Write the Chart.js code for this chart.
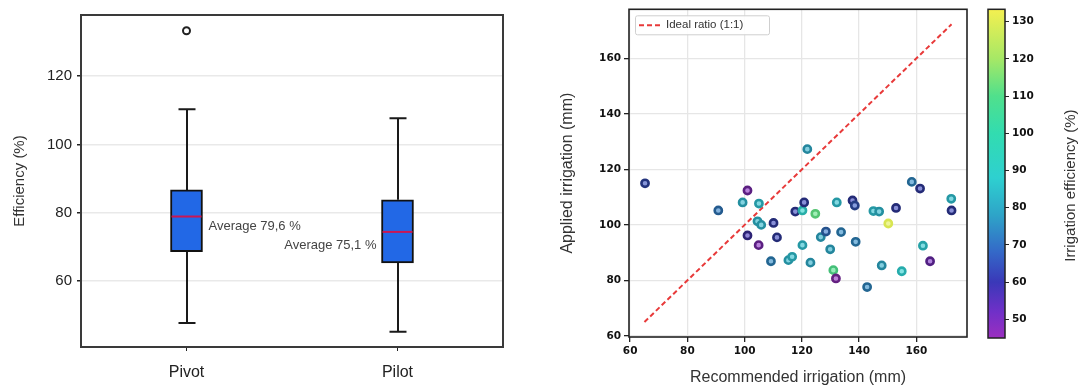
<!DOCTYPE html>
<html lang="en">

<head>
    <meta charset="UTF-8">
    <title>Irrigation efficiency - Pivot vs Pilot</title>
    <style>
        body {
            margin: 0;
            background: #fff;
        }

        .wrap {
            position: relative;
            width: 1079px;
            height: 387px;
            overflow: hidden;
        }

        .wrap canvas {
            position: absolute;
            top: 0;
        }
    </style>
</head>

<body>
    <div class="wrap">
        <canvas id="boxChart" width="520" height="387" style="left:0"></canvas>
        <canvas id="scatterChart" width="440" height="387" style="left:540px"></canvas>
        <canvas id="barChart" width="99" height="387" style="left:980px"></canvas>
    </div>

    <script src="https://cdn.jsdelivr.net/npm/chart.js"></script>
    <script>
        // Box plot (efficiency by system)
        const groups = ['Pivot', 'Pilot'];
        const q1 = [68.6, 65.3];
        const q3 = [86.7, 83.8];
        const medians = [78.9, 74.4];
        const whiskerLow = [47.7, 45.2];
        const whiskerHigh = [110.3, 107.7];
        const outliers = [133.3, null];
        const means = [79.6, 75.1];
        const effTicks = [60, 80, 100, 120];

        // Scatter: recommended vs applied irrigation, coloured by efficiency
        const recommended = [65.2, 101.0, 90.8, 99.3, 105.0, 104.5, 105.8, 101.0, 104.9, 110.1, 111.3,
            109.2, 115.3, 116.6, 117.7, 120.2, 120.8, 121.9, 124.7, 120.2, 123.0, 126.6,
            128.4, 129.9, 132.2, 131.0, 131.9, 133.7, 137.7, 138.5, 138.8, 142.8, 145.0,
            147.0, 147.9, 150.2, 152.9, 154.9, 158.4, 161.3, 162.3, 164.8, 172.2, 172.3];
        const applied = [115.0, 112.4, 105.2, 108.1, 107.7, 101.3, 100.0, 96.2, 92.7, 100.7, 95.5,
            86.9, 87.3, 88.5, 104.8, 105.2, 108.1, 127.3, 104.0, 92.7, 86.4, 95.6,
            97.6, 91.2, 108.1, 83.7, 80.7, 97.4, 108.8, 107.0, 93.9, 77.6, 105.0,
            104.8, 85.4, 100.5, 106.1, 83.3, 115.5, 113.1, 92.5, 86.9, 109.4, 105.2];
        const efficiency = [64, 48, 72, 82, 84, 82, 82, 58, 48, 62, 62,
            74, 82, 84, 62, 90, 62, 80, 112, 84, 80, 80,
            70, 80, 84, 110, 46, 74, 62, 66, 74, 74, 84,
            82, 80, 130, 62, 88, 74, 62, 86, 50, 84, 62];
        const idealLine = [65.0, 172.3];
        const irrTicks = [60, 80, 100, 120, 140, 160];
        const cbRange = [45, 133.3];
        const cbTicks = [50, 60, 70, 80, 90, 100, 110, 120, 130];

        // colour map (viridis as it looks in the picture)
        const cmapStops = [
            [45, [155, 47, 192]], [52, [112, 48, 200]], [60, [58, 56, 184]], [68, [52, 104, 200]],
            [78, [46, 164, 200]], [88, [46, 208, 208]], [100, [50, 220, 176]], [110, [80, 224, 140]],
            [120, [166, 232, 102]], [133.3, [244, 240, 80]]
        ];

        function cmap(v) {
            for (let i = 1; i < cmapStops.length; i++) {
                if (v <= cmapStops[i][0]) {
                    const a = cmapStops[i - 1], b = cmapStops[i];
                    const t = Math.max(0, (v - a[0]) / (b[0] - a[0]));
                    return a[1].map((c, k) => Math.round(c + (b[1][k] - c) * t));
                }
            }
            return cmapStops[cmapStops.length - 1][1];
        }
        const rgb = c => `rgb(${c[0]},${c[1]},${c[2]})`;
        const lum = c => (0.3 * c[0] + 0.59 * c[1] + 0.11 * c[2]) / 255;
        const shade = c => { const f = Math.min(1, 0.45 + 0.6 * lum(c)); return c.map(x => Math.round(x * f)); };
        const tint = (c, f) => c.map(x => Math.round(x + (255 - x) * f));

        Chart.defaults.animation = false;
        Chart.defaults.font.family = "'Liberation Sans', Arial, sans-serif";

        // draws a frame round the plot area
        const framePlugin = {
            id: 'frame',
            afterDraw(chart, args, opts) {
                const { ctx, chartArea: a } = chart;
                ctx.save();
                ctx.strokeStyle = opts.color || '#333';
                ctx.lineWidth = opts.width || 2;
                ctx.strokeRect(a.left, a.top, a.right - a.left, a.bottom - a.top);
                ctx.restore();
            }
        };

        // whiskers, medians and average labels for the box plot
        const boxPlugin = {
            id: 'boxExtras',
            beforeDatasetsDraw(chart) {
                const { ctx, scales: { x, y } } = chart;
                ctx.save();
                ctx.strokeStyle = '#1a1a1a';
                ctx.lineWidth = 2;
                groups.forEach((g, i) => {
                    const cx = Math.round(x.getPixelForValue(i));
                    const segs = [[q3[i], whiskerHigh[i]], [q1[i], whiskerLow[i]]];
                    segs.forEach(([from, to]) => {
                        ctx.beginPath();
                        ctx.moveTo(cx, y.getPixelForValue(from));
                        ctx.lineTo(cx, y.getPixelForValue(to));
                        ctx.moveTo(cx - 8.5, y.getPixelForValue(to));
                        ctx.lineTo(cx + 8.5, y.getPixelForValue(to));
                        ctx.stroke();
                    });
                });
                ctx.restore();
            },
            afterDatasetsDraw(chart) {
                const { ctx, scales: { x, y } } = chart;
                ctx.save();
                groups.forEach((g, i) => {
                    const cx = x.getPixelForValue(i);
                    const my = y.getPixelForValue(medians[i]);
                    ctx.strokeStyle = '#cc1652';
                    ctx.lineWidth = 2;
                    ctx.beginPath();
                    ctx.moveTo(cx - 15, my);
                    ctx.lineTo(cx + 15, my);
                    ctx.stroke();

                    ctx.fillStyle = '#444';
                    ctx.font = "13px 'Liberation Sans', Arial, sans-serif";
                    ctx.textBaseline = 'middle';
                    const label = 'Average ' + means[i].toFixed(1).replace('.', ',') + ' %';
                    if (i === 0) {
                        ctx.textAlign = 'left';
                        ctx.fillText(label, cx + 22, my + 10);
                    } else {
                        ctx.textAlign = 'right';
                        ctx.fillText(label, cx - 21, my + 14);
                    }
                });
                ctx.restore();
            }
        };

        new Chart(document.getElementById('boxChart'), {
            type: 'bar',
            data: {
                labels: groups,
                datasets: [{
                    type: 'line',
                    data: outliers,
                    showLine: false,
                    pointRadius: 3.5,
                    pointBorderWidth: 2,
                    pointBackgroundColor: '#fff',
                    pointBorderColor: '#222'
                }, {
                    type: 'bar',
                    data: groups.map((g, i) => [q1[i], q3[i]]),
                    backgroundColor: '#2268e6',
                    borderColor: '#111',
                    borderWidth: 2,
                    borderSkipped: false,
                    barThickness: 32
                }]
            },
            options: {
                responsive: false,
                devicePixelRatio: 1,
                layout: { padding: { top: 15, right: 17, left: 0, bottom: 0 } },
                plugins: {
                    legend: { display: false },
                    tooltip: { enabled: false },
                    frame: { color: '#3a3a3a', width: 2 }
                },
                scales: {
                    x: {
                        offset: true,
                        border: { display: false },
                        grid: { offset: false, drawOnChartArea: false, drawTicks: true, tickLength: 4, tickColor: '#222' },
                        ticks: { color: '#222', padding: 12, font: { size: 16 } },
                        afterFit: s => { s.height = 40; }
                    },
                    y: {
                        min: 40.7,
                        max: 137.9,
                        border: { display: false },
                        grid: { color: '#e9e9e9', lineWidth: 1.5, tickLength: 4, tickColor: '#222' },
                        ticks: { color: '#222', padding: 5, font: { size: 15 } },
                        afterBuildTicks: s => { s.ticks = effTicks.map(v => ({ value: v })); },
                        afterFit: s => { s.width = 81; },
                        title: {
                            display: true,
                            text: 'Efficiency (%)',
                            color: '#333',
                            font: { size: 15 },
                            padding: { top: 11, bottom: 0 }
                        }
                    }
                }
            },
            plugins: [boxPlugin, framePlugin]
        });

        // legend box inside the scatter plot
        const legendPlugin = {
            id: 'insideLegend',
            afterDraw(chart) {
                const { ctx, chartArea: a } = chart;
                const x0 = a.left + 6, y0 = a.top + 6;
                ctx.save();
                ctx.fillStyle = 'rgba(255,255,255,0.9)';
                ctx.strokeStyle = '#cfcfcf';
                ctx.lineWidth = 1;
                ctx.beginPath();
                ctx.roundRect(x0 + 0.5, y0 + 0.5, 134, 19, 2);
                ctx.fill();
                ctx.stroke();
                ctx.strokeStyle = '#e83a3a';
                ctx.lineWidth = 2;
                ctx.setLineDash([5, 3]);
                ctx.beginPath();
                ctx.moveTo(x0 + 4, y0 + 10);
                ctx.lineTo(x0 + 25, y0 + 10);
                ctx.stroke();
                ctx.setLineDash([]);
                ctx.fillStyle = '#333';
                ctx.font = "11.5px 'Liberation Sans', Arial, sans-serif";
                ctx.textBaseline = 'middle';
                ctx.fillText('Ideal ratio (1:1)', x0 + 31, y0 + 10);
                ctx.restore();
            }
        };

        const pointColors = efficiency.map(cmap);
        const tickFont = { family: "'DejaVu Sans', sans-serif", size: 10.5, weight: 'bold' };

        new Chart(document.getElementById('scatterChart'), {
            type: 'scatter',
            data: {
                datasets: [{
                    type: 'scatter',
                    data: recommended.map((v, i) => ({ x: v, y: applied[i] })),
                    pointRadius: 3.6,
                    pointBorderWidth: 2.6,
                    pointBackgroundColor: pointColors.map(c => rgb(tint(c, 0.4))),
                    pointBorderColor: pointColors.map(c => rgb(shade(c)))
                }, {
                    type: 'line',
                    label: 'Ideal ratio (1:1)',
                    data: idealLine.map(v => ({ x: v, y: v })),
                    borderColor: '#e83a3a',
                    borderWidth: 2,
                    borderDash: [5, 3],
                    pointRadius: 0
                }]
            },
            options: {
                responsive: false,
                devicePixelRatio: 1,
                layout: { padding: { top: 6, right: 13, left: 0, bottom: 0 } },
                plugins: {
                    legend: { display: false },
                    tooltip: { enabled: false },
                    frame: { color: '#222', width: 1.6 }
                },
                scales: {
                    x: {
                        type: 'linear',
                        min: 59.6,
                        max: 177.7,
                        border: { display: false },
                        grid: { color: '#e6e6e6', lineWidth: 1.3, tickLength: 5, tickColor: '#222' },
                        ticks: { color: '#111', padding: 3, font: tickFont },
                        afterBuildTicks: s => { s.ticks = irrTicks.map(v => ({ value: v })); },
                        afterFit: s => { s.height = 50; },
                        title: {
                            display: true,
                            text: 'Recommended irrigation (mm)',
                            color: '#333',
                            font: { size: 16 },
                            padding: { top: 0, bottom: 0 }
                        }
                    },
                    y: {
                        type: 'linear',
                        min: 59.6,
                        max: 177.7,
                        border: { display: false },
                        grid: { color: '#e6e6e6', lineWidth: 1.3, tickLength: 5, tickColor: '#222' },
                        ticks: { color: '#111', padding: 3, font: tickFont },
                        afterBuildTicks: s => { s.ticks = irrTicks.map(v => ({ value: v })); },
                        afterFit: s => { s.width = 89; },
                        title: {
                            display: true,
                            text: 'Applied irrigation (mm)',
                            color: '#333',
                            font: { size: 16 },
                            padding: { top: 18, bottom: 0 }
                        }
                    }
                }
            },
            plugins: [legendPlugin, framePlugin]
        });

        // colour bar
        const cbTitlePlugin = {
            id: 'cbTitle',
            afterDraw(chart) {
                const { ctx, chartArea: a } = chart;
                ctx.save();
                ctx.translate(91, (a.top + a.bottom) / 2 + 12);
                ctx.rotate(-Math.PI / 2);
                ctx.fillStyle = '#333';
                ctx.font = "15px 'Liberation Sans', Arial, sans-serif";
                ctx.textAlign = 'center';
                ctx.textBaseline = 'middle';
                ctx.fillText('Irrigation efficiency (%)', 0, 0);
                ctx.restore();
            }
        };

        new Chart(document.getElementById('barChart'), {
            type: 'bar',
            data: {
                labels: [''],
                datasets: [{
                    data: [cbRange],
                    barPercentage: 1,
                    categoryPercentage: 1,
                    borderWidth: 0,
                    backgroundColor: ctx => {
                        const { chart } = ctx;
                        const a = chart.chartArea;
                        if (!a) return '#888';
                        const y = chart.scales.y;
                        const g = chart.ctx.createLinearGradient(0, a.bottom, 0, a.top);
                        cmapStops.forEach(([v, c]) => {
                            const t = (y.getPixelForValue(v) - a.bottom) / (a.top - a.bottom);
                            g.addColorStop(Math.min(1, Math.max(0, t)), rgb(c));
                        });
                        return g;
                    }
                }]
            },
            options: {
                responsive: false,
                devicePixelRatio: 1,
                layout: { padding: { top: 7, right: 0, left: 8, bottom: 49 } },
                plugins: {
                    legend: { display: false },
                    tooltip: { enabled: false },
                    frame: { color: '#222', width: 1.5 }
                },
                scales: {
                    x: { display: false },
                    y: {
                        position: 'right',
                        min: cbRange[0],
                        max: cbRange[1],
                        border: { display: false },
                        grid: { drawOnChartArea: false, tickLength: 4, tickColor: '#222' },
                        ticks: { color: '#111', padding: 3, font: tickFont },
                        afterBuildTicks: s => { s.ticks = cbTicks.map(v => ({ value: v })); },
                        afterFit: s => { s.width = 74; }
                    }
                }
            },
            plugins: [framePlugin, cbTitlePlugin]
        });
    </script>

</body>

</html>
